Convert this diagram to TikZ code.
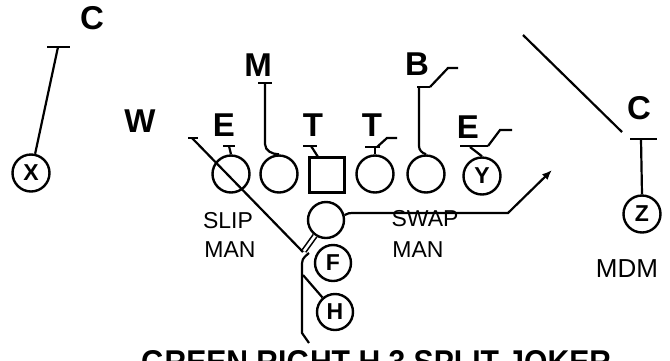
\documentclass[tikz,border=0pt]{standalone}
\usepackage{fontspec}
\setmainfont{Liberation Sans}
\usepackage{graphicx}
\usetikzlibrary{arrows.meta,calc}
\begin{document}
\begin{tikzpicture}[x=1pt,y=-1pt,line width=2.2pt,
  big/.style={font=\fontsize{33}{33}\selectfont\bfseries,inner sep=0pt},
  lab/.style={font=\fontsize{23}{23}\selectfont,inner sep=0pt},
  player/.style={draw,circle,minimum size=37pt,inner sep=0pt,line width=2.4pt},
  lett/.style={player,font=\fontsize{23}{23}\selectfont\bfseries},
  ctr/.style={draw,rectangle,minimum size=35pt,inner sep=0pt,line width=2.4pt}]
\useasboundingbox (0,0) rectangle (670,360);
\clip (0,0) rectangle (670,360);
\fill[white] (0,0) rectangle (670,360);
% text labels
\node[big] (cl) at (92,18) {C};
\node[big] (w) at (140,121) {W};
\node[big] (e1) at (224,125) {E};
\node[big] (m) at (258,65) {M};
\node[big] (t1) at (313,125) {T};
\node[big] (t2) at (372,125) {T};
\node[big] (b) at (417,64) {B};
\node[big] (e2) at (468,127) {E};
\node[big] (cr) at (639,108) {C};
\node[lab] (slip) at (228,221) {SLIP};
\node[lab] (man1) at (230,250) {MAN};
\node[lab] (swap) at (425,219) {SWAP};
\node[lab] (man2) at (418,250) {MAN};
\node[lab,font=\fontsize{26}{26}\selectfont] (mdm) at (627,269) {MDM};
% players
\node[lett] (x) at (31,173) {X};
\node[player] (le) at (231,174) {};
\node[player] (lg) at (279,174) {};
\node[ctr] (c) at (327,175) {};
\node[player] (rg) at (375,174) {};
\node[player] (rt) at (426,174) {};
\node[lett] (y) at (482,176) {Y};
\node[lett] (z) at (642,214) {Z};
\node[player,minimum size=36pt] (qb) at (326,220) {};
\node[lett,minimum size=36pt] (f) at (333,263) {F};
\node[lett,minimum size=36pt] (h) at (335,312) {H};
% bottom title
\node[anchor=north west,inner sep=0pt] (title) at (140,349)
  {\resizebox{470pt}{23pt}{\bfseries GREEN RIGHT H 3 SPLIT JOKER}};
% assignments
\coordinate (tkl) at (58,47);
\draw (47,47) -- (70,47);
\draw (tkl) -- (x);
\coordinate (slipst) at (192,138);
\draw (188,138) -- (198,138);
\draw (slipst) -- (303,252);
\draw (223,146) -- (235,146);
\draw (229,146) -- (le.north);
\draw (258,83) -- (272,83);
\draw (265,83) -- (265,144) to[out=-90,in=180] (lg.north);
\draw (303,146) -- (317,146);
\draw (311,146) -- ($(c.north west)!0.25!(c.north east)$);
\draw (365,147) -- (380,147);
\draw (375,147) -- (rg.north);
\draw (377,147) -- (387,138) -- (397,138);
\draw (417,87) -- (430,87);
\draw (430,87) -- (448,68) -- (458,68);
\draw (419,87) -- (419,146) to[out=-90,in=160] (rt.north);
\draw (460,146) -- (488,146);
\draw (488,146) -- (500,130) -- (512,130);
\draw (470,147) -- (y.north);
\coordinate (rd1) at (523,35);
\coordinate (rd2) at (622,132);
\draw (rd1) -- (rd2);
\draw (630,139) -- (657,139);
\draw (641,139) -- (z.north);
% backfield action
\draw[-{Latex[length=10pt,width=8pt]}] (qb.15) .. controls (348,213) .. (358,213) -- (508,213) -- (552,170);
\draw[double,double distance=2.6pt,line width=1.6pt] (qb.235) -- (304,251);
\draw (309,253) .. controls (302,259) .. (302,268) -- (302,333) -- (309,343);
\draw (h) -- (303,275);
\end{tikzpicture}
\end{document}
